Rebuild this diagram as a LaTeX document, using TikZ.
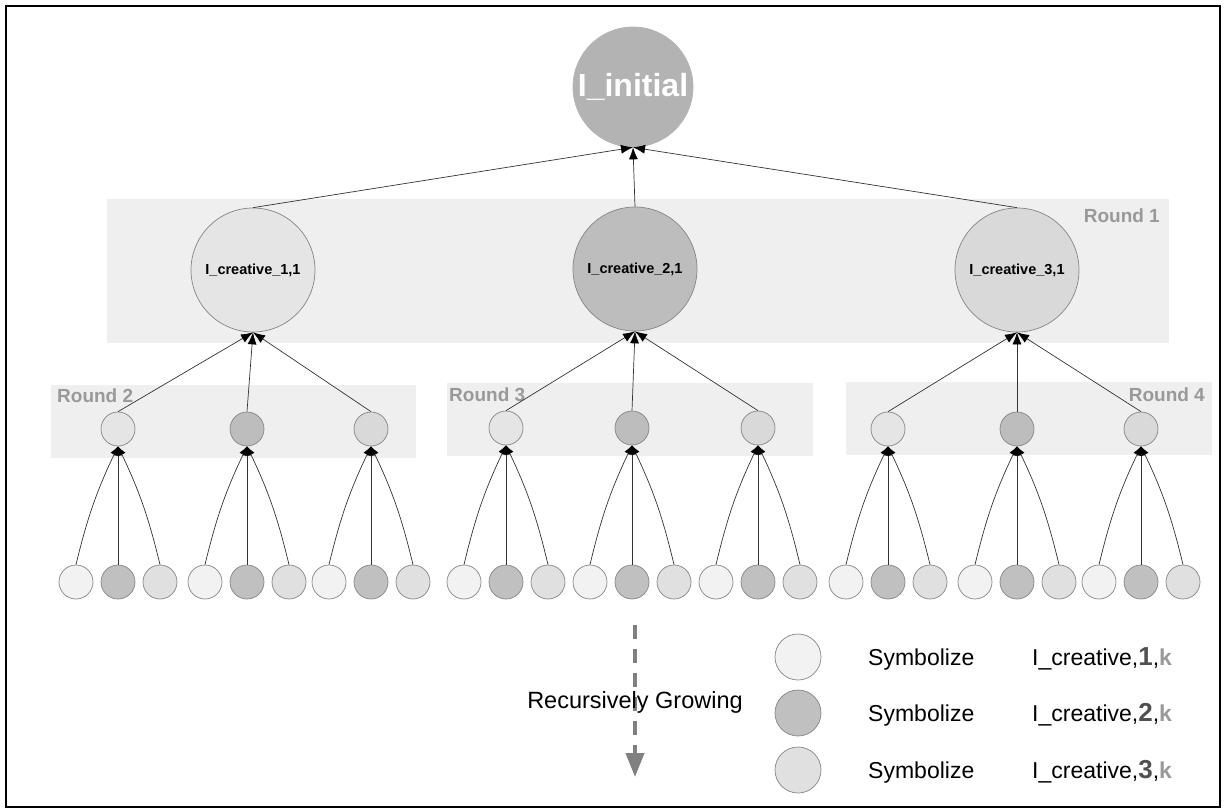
\documentclass[tikz,border=0pt]{standalone}
\usepackage{fontspec}
\setmainfont{Liberation Sans}
\usetikzlibrary{arrows.meta}

\definecolor{bandgray}{HTML}{EFEFEF}
\definecolor{rootgray}{HTML}{B3B3B3}
\definecolor{labelgray}{HTML}{999999}
\definecolor{edgegray}{HTML}{333333}
\definecolor{nodeborder}{HTML}{858585}
\definecolor{growgray}{HTML}{808080}
\definecolor{numgray}{HTML}{505050}
% leaf / legend shades for the three kinds
\definecolor{kindA}{HTML}{F2F2F2}
\definecolor{kindB}{HTML}{C0C0C0}
\definecolor{kindC}{HTML}{E0E0E0}
% shades of the nodes sitting on the bands
\definecolor{bandA}{HTML}{E5E5E5}
\definecolor{bandB}{HTML}{BDBDBD}
\definecolor{bandC}{HTML}{D9D9D9}

\begin{document}
\begin{tikzpicture}[x=1pt,y=-1pt,
  circ/.style={circle,draw=nodeborder,line width=0.7pt,inner sep=0pt},
  bignode/.style={circ,minimum size=124pt,font=\fontsize{14.5}{17}\selectfont\bfseries},
  smallnode/.style={circ,minimum size=34pt},
  legnode/.style={circ,minimum size=46pt},
  roundlbl/.style={text=labelgray,font=\fontsize{19}{21}\selectfont\bfseries,inner sep=0pt},
  legtext/.style={font=\fontsize{23}{26}\selectfont,inner sep=0pt,anchor=base west},
  link/.style={draw=edgegray,line width=0.7pt,-{Latex[length=12pt,width=9pt,color=black]}},
  leaflink/.style={draw=edgegray,line width=0.7pt,-{Latex[length=9pt,width=8pt,color=black]}},
]
\useasboundingbox (0,0) rectangle (1225,810);
\draw[line width=2pt] (6,6) rectangle (1220,807);

% round bands
\fill[bandgray] (107,199) rectangle (1169,343);
\fill[bandgray] (51,385) rectangle (416,458);
\fill[bandgray] (447,383) rectangle (813,456);
\fill[bandgray] (846,382) rectangle (1212,455);

\node[roundlbl,anchor=east] (r1) at (1160,216) {Round 1};
\node[roundlbl,anchor=west] (r2) at (57,396) {Round 2};
\node[roundlbl,anchor=west] (r3) at (449,395) {Round 3};
\node[roundlbl,anchor=east] (r4) at (1205,395) {Round 4};

% root
\node[circ,fill=rootgray,draw=rootgray,minimum size=120pt,text=white,
      font=\fontsize{32}{35}\selectfont\bfseries] (root) at (633,87) {I\_initial};

% first round
\node[bignode,fill=bandA] (m1) at (253,270) {I\_creative\_1,1};
\node[bignode,fill=bandB] (m2) at (635,269) {I\_creative\_2,1};
\node[bignode,fill=bandC] (m3) at (1017,270) {I\_creative\_3,1};

\foreach \g in {1,2,3}{
  \draw[link] (m\g.north) -- (root.south);
}

% rounds 2-4 and their leaves
\foreach \g/\xa/\xb/\xc/\yy in {1/118/247/371/429, 2/506/632/758/428, 3/888/1017/1141/429}{
  \foreach \i/\xx/\sh in {1/\xa/bandA, 2/\xb/bandB, 3/\xc/bandC}{
    \node[smallnode,fill=\sh] (p\g\i) at (\xx,\yy) {};
    \draw[link] (p\g\i.north) -- (m\g.south);
    \node[smallnode,fill=kindA] (l\g\i1) at (\xx-42,582) {};
    \node[smallnode,fill=kindB] (l\g\i2) at (\xx,582) {};
    \node[smallnode,fill=kindC] (l\g\i3) at (\xx+42,582) {};
    \draw[leaflink] (l\g\i1.north) to[bend left=6] (p\g\i.south);
    \draw[leaflink] (l\g\i2.north) -- (p\g\i.south);
    \draw[leaflink] (l\g\i3.north) to[bend right=6] (p\g\i.south);
  }
}

% growth arrow
\coordinate (gtop) at (635,625);
\coordinate (gend) at (635,777);
\draw[growgray,line width=4pt,dash pattern=on 14pt off 10pt,
      -{Triangle[length=24pt,width=18pt]}] (gtop) -- (gend);
\node[font=\fontsize{23.5}{26}\selectfont,inner sep=0pt] (grow) at (635,702) {Recursively Growing};

% legend
\node[legnode,fill=kindA] (k1) at (798,657) {};
\node[legnode,fill=kindB] (k2) at (798,713) {};
\node[legnode,fill=kindC] (k3) at (798,770) {};
\foreach \n/\yy in {1/657,2/713,3/770}{
  \node[legtext] (s\n) at (868,\yy+8) {Symbolize};
  \node[legtext] (c\n) at (1032,\yy+8) {I\_creative,{\color{numgray}\bfseries\fontsize{26}{28}\selectfont\n},{\color{labelgray}\bfseries k}};
}
\end{tikzpicture}
\end{document}
